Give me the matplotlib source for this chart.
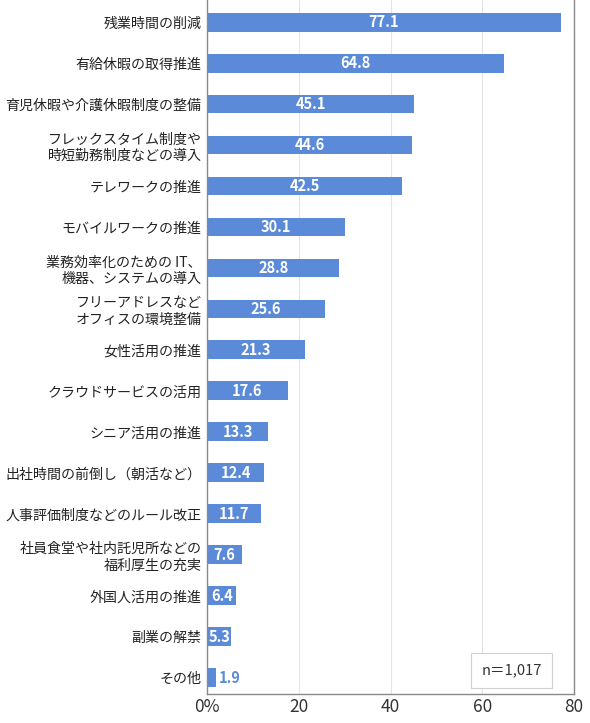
import matplotlib
matplotlib.use('Agg')
import matplotlib.pyplot as plt

plt.rcParams['font.family'] = ['Noto Sans CJK JP', 'DejaVu Sans']

categories = [
    '残業時間の削減',
    '有給休暇の取得推進',
    '育児休暇や介護休暇制度の整備',
    'フレックスタイム制度や\n時短勤務制度などの導入',
    'テレワークの推進',
    'モバイルワークの推進',
    '業務効率化のための IT、\n機器、システムの導入',
    'フリーアドレスなど\nオフィスの環境整備',
    '女性活用の推進',
    'クラウドサービスの活用',
    'シニア活用の推進',
    '出社時間の前倒し（朝活など）',
    '人事評価制度などのルール改正',
    '社員食堂や社内託児所などの\n福利厚生の充実',
    '外国人活用の推進',
    '副業の解禁',
    'その他',
]
values = [77.1, 64.8, 45.1, 44.6, 42.5, 30.1, 28.8, 25.6, 21.3,
          17.6, 13.3, 12.4, 11.7, 7.6, 6.4, 5.3, 1.9]
x_ticks = [0, 20, 40, 60, 80]
x_tick_labels = ['0%', '20', '40', '60', '80']
n_note = 'n＝1,017'

bar_color = '#5b8bd8'

fig = plt.figure(figsize=(5.9, 7.23), dpi=100)
ax = fig.add_axes([0.351, 0.040, 0.622, 0.960])

pos = list(range(len(categories)))
ax.barh(pos, values, height=0.46, color=bar_color, zorder=2)

# 数値ラベル
for y, v in zip(pos, values):
    if v < 3:
        ax.text(v + 0.6, y, '%.1f' % v, ha='left', va='center',
                color=bar_color, fontsize=10.5, fontweight='bold')
    else:
        ax.text(v / 2, y, '%.1f' % v, ha='center', va='center',
                color='white', fontsize=10.5, fontweight='bold')

ax.set_yticks(pos)
ax.set_yticklabels(categories, fontsize=10.1, linespacing=1.2)
ax.set_ylim(len(categories) - 0.6, -0.54)
ax.set_xlim(0, 80)
ax.set_xticks(x_ticks)
ax.set_xticklabels(x_tick_labels, fontsize=12.5, color='#333333')
ax.tick_params(axis='x', length=0, pad=3)
ax.tick_params(axis='y', length=0, pad=4, colors='#222222')

ax.xaxis.grid(True, color='#e4e4e4', linewidth=0.8, zorder=0)
ax.set_axisbelow(True)
for s in ['left', 'bottom', 'right']:
    ax.spines[s].set_color('#8a8a8a')
    ax.spines[s].set_linewidth(1.0)
ax.spines['top'].set_visible(False)

ax.text(0.83, 0.034, n_note, transform=ax.transAxes, ha='center', va='center',
        fontsize=10.5, color='#333333',
        bbox=dict(boxstyle='square,pad=0.7', facecolor='white', edgecolor='#d0d0d0', linewidth=0.8))

fig.savefig('out.png', dpi=100)
